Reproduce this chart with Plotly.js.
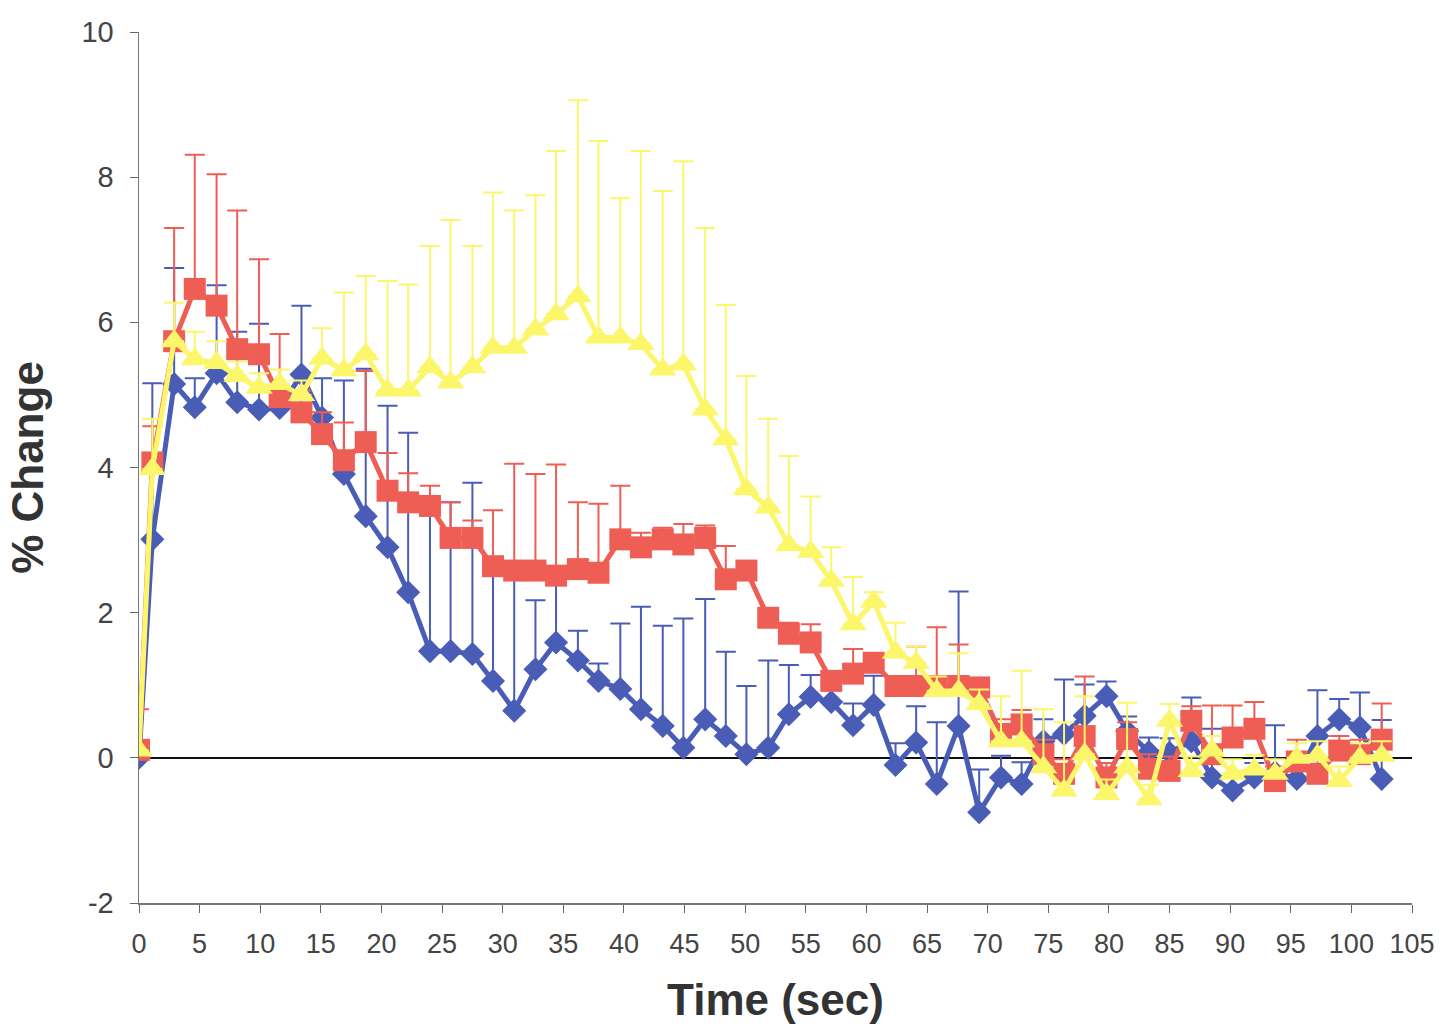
<!DOCTYPE html>
<html>
<head>
<meta charset="utf-8">
<script src="https://cdn.plot.ly/plotly-3.0.1.min.js"></script>
<style>
html,body{margin:0;padding:0;background:#fff;}
#chart{width:1441px;height:1026px;}
</style>
</head>
<body>
<div id="chart"></div>
<script>
// Time points (sec)
const timeSec = [0, 1.1, 2.9, 4.6, 6.4, 8.1, 9.9, 11.6, 13.4, 15.1, 16.9, 18.7, 20.5, 22.2, 24.0, 25.7, 27.5, 29.2, 30.95, 32.7,
  34.4, 36.2, 37.9, 39.7, 41.4, 43.2, 44.9, 46.7, 48.4, 50.1, 51.9, 53.6, 55.4, 57.1, 58.9, 60.6, 62.4, 64.1, 65.8, 67.6,
  69.3, 71.1, 72.8, 74.6, 76.3, 78.0, 79.8, 81.5, 83.3, 85.0, 86.8, 88.5, 90.2, 92.0, 93.7, 95.5, 97.2, 99.0, 100.7, 102.5];

// Blue series (% change) and upper error
const blueVals = [0.0, 3.01, 5.15, 4.83, 5.30, 4.90, 4.80, 4.82, 5.28, 4.69, 3.91, 3.33, 2.90, 2.28, 1.47, 1.47, 1.43, 1.06, 0.65, 1.22,
  1.59, 1.34, 1.06, 0.95, 0.67, 0.44, 0.14, 0.53, 0.30, 0.05, 0.14, 0.60, 0.84, 0.77, 0.45, 0.73, -0.10, 0.21, -0.36, 0.44,
  -0.75, -0.27, -0.36, 0.23, 0.33, 0.58, 0.85, 0.37, 0.08, 0.07, 0.23, -0.27, -0.45, -0.27, -0.20, -0.29, 0.30, 0.53, 0.42, -0.29];
const blueErr = [0.0, 2.15, 1.60, 0.40, 1.21, 0.97, 1.18, 0.30, 0.95, 0.54, 1.29, 2.03, 1.95, 2.20, 1.93, 2.05, 2.36, 1.64, 1.85, 0.95,
  0.81, 0.41, 0.24, 0.90, 1.41, 1.38, 1.78, 1.66, 1.16, 0.94, 1.20, 0.68, 0.30, 0.30, 0.30, 0.40, 0.30, 0.50, 0.85, 1.85,
  0.59, 0.30, 0.30, 0.30, 0.75, 0.43, 0.20, 0.20, 0.20, 0.20, 0.60, 0.67, 0.20, 0.20, 0.65, 0.20, 0.63, 0.28, 0.48, 0.81];

// Red series
const redVals = [0.11, 4.07, 5.74, 6.46, 6.23, 5.63, 5.56, 4.97, 4.76, 4.46, 4.10, 4.35, 3.68, 3.52, 3.47, 3.03, 3.03, 2.64, 2.58, 2.58,
  2.51, 2.60, 2.55, 3.01, 2.90, 3.01, 2.94, 3.03, 2.46, 2.58, 1.93, 1.71, 1.59, 1.06, 1.16, 1.31, 0.99, 0.99, 0.99, 0.99,
  0.97, 0.33, 0.46, 0.05, -0.22, 0.30, -0.27, 0.26, -0.15, -0.18, 0.51, 0.05, 0.28, 0.40, -0.32, -0.05, -0.22, 0.10, 0.05, 0.25];
const redErr = [0.56, 0.50, 1.56, 1.85, 1.81, 1.91, 1.31, 0.87, 0.30, 0.30, 0.52, 0.98, 0.52, 0.40, 0.28, 0.49, 0.24, 0.77, 1.47, 1.33,
  1.53, 0.92, 0.95, 0.74, 0.20, 0.16, 0.28, 0.17, 0.46, 0.12, 0.07, 0.15, 0.25, 0.10, 0.34, 0.10, 0.10, 0.54, 0.81, 0.57,
  0.10, 0.20, 0.20, 0.20, 0.20, 0.82, 0.20, 0.23, 0.20, 0.20, 0.20, 0.67, 0.44, 0.37, 0.20, 0.30, 0.20, 0.20, 0.20, 0.50];

// Yellow series
const yellowVals = [0.10, 3.98, 5.74, 5.49, 5.44, 5.26, 5.10, 5.15, 5.00, 5.50, 5.34, 5.56, 5.06, 5.06, 5.38, 5.17, 5.38, 5.65, 5.65, 5.90,
  6.11, 6.36, 5.79, 5.79, 5.70, 5.35, 5.42, 4.80, 4.39, 3.70, 3.45, 2.93, 2.84, 2.44, 1.84, 2.15, 1.45, 1.31, 0.92, 0.92,
  0.74, 0.23, 0.23, -0.13, -0.45, 0.05, -0.50, -0.13, -0.57, 0.51, -0.18, 0.10, -0.22, -0.16, -0.22, 0.00, 0.03, -0.32, 0.00, 0.03];
const yellowErr = [0.0, 0.69, 0.53, 0.38, 0.30, 0.20, 0.20, 0.20, 0.20, 0.42, 1.07, 1.08, 1.51, 1.46, 1.67, 2.24, 1.67, 2.14, 1.89, 1.85,
  2.25, 2.70, 2.71, 1.92, 2.66, 2.46, 2.80, 2.50, 1.85, 1.56, 1.22, 1.23, 0.76, 0.46, 0.65, 0.13, 0.41, 0.22, 0.20, 0.52,
  0.20, 0.62, 0.97, 0.80, 0.94, 0.80, 0.20, 0.89, 0.20, 0.23, 0.20, 0.20, 0.20, 0.20, 0.20, 0.20, 0.20, 0.20, 0.20, 0.20];

const xTicks = [0, 5, 10, 15, 20, 25, 30, 35, 40, 45, 50, 55, 60, 65, 70, 75, 80, 85, 90, 95, 100, 105];
const yTicks = [-2, 0, 2, 4, 6, 8, 10];

const BLUE = '#4A5DB6', RED = '#EF5E55', YELLOW = '#FBF66A';

function series(name, y, err, color, symbol, size) {
  return {
    type: 'scatter', mode: 'lines+markers', name: name,
    x: timeSec, y: y,
    line: {color: color, width: 5},
    marker: {color: color, symbol: symbol, size: size, line: {width: 0}},
    error_y: {type: 'data', symmetric: false, array: err, arrayminus: err.map(() => 0),
      color: color, thickness: 2, width: 10},
    hoverinfo: 'x+y'
  };
}

const data = [
  series('Series 1', blueVals, blueErr, BLUE, 'diamond', 18.5),
  series('Series 2', redVals, redErr, RED, 'square', 22),
  series('Series 3', yellowVals, yellowErr, YELLOW, 'triangle-up', 24)
];

const layout = {
  width: 1441, height: 1026,
  margin: {l: 139, r: 29, t: 32, b: 123},
  paper_bgcolor: '#fff', plot_bgcolor: '#fff',
  showlegend: false,
  font: {family: '"Liberation Sans", Arial, sans-serif', color: '#333'},
  xaxis: {
    range: [0, 105], tickmode: 'array', tickvals: xTicks, ticktext: xTicks.map(String),
    ticks: 'outside', ticklen: 8, tickcolor: '#666', tickwidth: 1,
    ticklabelstandoff: 8,
    showline: true, linecolor: '#777', linewidth: 1.5, mirror: false,
    showgrid: false, zeroline: false,
    tickfont: {size: 27, color: '#444'},
    title: {text: '<b>Time (sec)</b>', font: {size: 44, color: '#333'}, standoff: 26}
  },
  yaxis: {
    range: [-2, 10], tickmode: 'array', tickvals: yTicks, ticktext: yTicks.map(String),
    ticks: 'outside', ticklen: 8, tickcolor: '#666', tickwidth: 1,
    ticklabelstandoff: 10,
    showline: true, linecolor: '#777', linewidth: 1.5,
    showgrid: false, zeroline: true, zerolinecolor: '#111', zerolinewidth: 2,
    tickfont: {size: 29, color: '#444'},
    title: {text: '<b>% Change</b>', font: {size: 44, color: '#333'}, standoff: 24}
  }
};

Plotly.newPlot('chart', data, layout, {displayModeBar: false, staticPlot: true});
</script>
</body>
</html>
